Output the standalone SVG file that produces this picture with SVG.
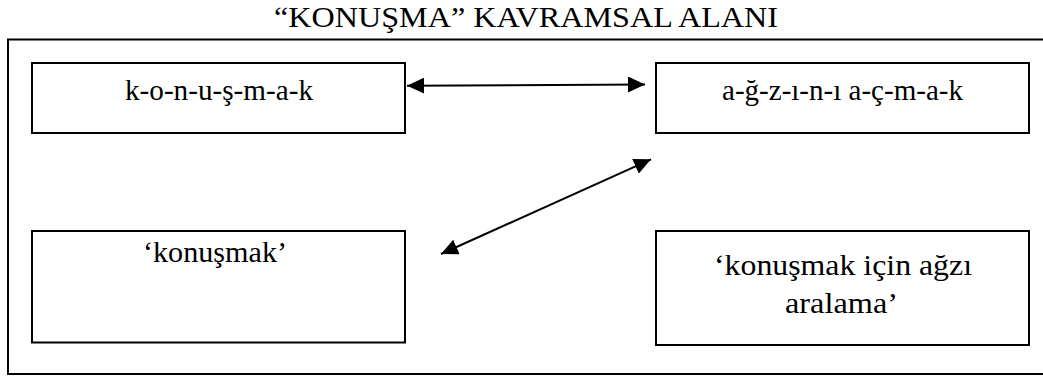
<svg xmlns="http://www.w3.org/2000/svg" width="1043" height="376" viewBox="0 0 1043 376">
<style>
text { font-family: "Liberation Serif", "Times New Roman", serif; font-size: 29px; fill: #000; }
.box { fill: #fff; stroke: #000; stroke-width: 2; }
.frame { fill: none; stroke: #000; stroke-width: 2; }
.conn { stroke: #000; stroke-width: 2; fill: none; marker-start: url(#ah); marker-end: url(#ah); }
</style>
<defs>
<marker id="ah" markerUnits="userSpaceOnUse" markerWidth="18" markerHeight="16" refX="17" refY="8" orient="auto-start-reverse" viewBox="0 0 18 16">
<path d="M0,0 L17,8 L0,16 z" fill="#000"/>
</marker>
</defs>
<rect width="1043" height="376" fill="#fff"/>
<g id="title">
<text x="274" y="27" textLength="504" lengthAdjust="spacingAndGlyphs">“KONUŞMA” KAVRAMSAL ALANI</text>
</g>
<rect id="frame" class="frame" x="8" y="39.5" width="1050" height="334.5"/>
<g id="node1">
<rect class="box" x="32" y="63" width="373" height="70"/>
<text x="125" y="100" textLength="188" lengthAdjust="spacingAndGlyphs">k-o-n-u-ş-m-a-k</text>
</g>
<g id="node2">
<rect class="box" x="656" y="63" width="373" height="70"/>
<text x="722" y="100" textLength="241" lengthAdjust="spacingAndGlyphs">a-ğ-z-ı-n-ı a-ç-m-a-k</text>
</g>
<g id="node3">
<rect class="box" x="32" y="231" width="373" height="111.5"/>
<text x="143" y="262" textLength="144" lengthAdjust="spacingAndGlyphs">‘konuşmak’</text>
</g>
<g id="node4">
<rect class="box" x="656" y="231" width="373" height="114"/>
<text x="714" y="275" textLength="258" lengthAdjust="spacingAndGlyphs">‘konuşmak için ağzı</text>
<text x="785" y="313" textLength="113" lengthAdjust="spacingAndGlyphs">aralama’</text>
</g>
<g id="connectors">
<line class="conn" x1="407" y1="85.7" x2="645" y2="84.5"/>
<line class="conn" x1="651" y1="159.3" x2="441" y2="254"/>
</g>
</svg>
